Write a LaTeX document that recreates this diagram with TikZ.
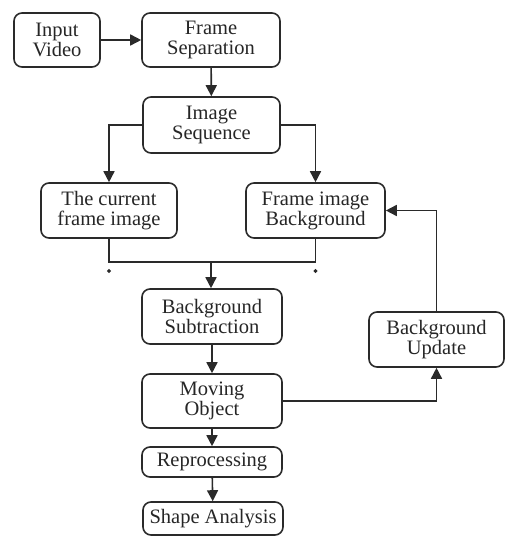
\documentclass[tikz,border=0pt]{standalone}
\usepackage{fontspec}
\setmainfont{Liberation Serif}
\usetikzlibrary{arrows.meta}
\definecolor{ln}{HTML}{2a2a2a}
\begin{document}
\begin{tikzpicture}[x=1pt,y=-1pt,
  box/.style={draw=ln,line width=1.6pt,rounded corners=8pt,inner sep=0pt,align=center,
    font=\fontsize{20.5}{20}\selectfont,text=black!85},
  arr/.style={draw=ln,line width=1.6pt,-{Triangle[length=11pt,width=11pt]}},
  ln/.style={draw=ln,line width=1.6pt}]
\useasboundingbox (0,0) rectangle (504,538);
\node[box,minimum width=86pt,minimum height=54pt] (inp) at (57,40) {Input\\Video};
\node[box,minimum width=138pt,minimum height=54pt] (fsep) at (211,40) {Frame\\Separation};
\node[box,minimum width=137pt,minimum height=56pt] (iseq) at (211.5,125) {Image\\Sequence};
\node[box,minimum width=136pt,minimum height=55pt] (cur) at (109,210.5) {The current\\frame image};
\node[box,minimum width=139pt,minimum height=55pt] (fbg) at (315.5,210.5) {Frame image\\Background};
\node[box,minimum width=140pt,minimum height=55pt] (bsub) at (212,316.5) {Background\\Subtraction};
\node[box,minimum width=140pt,minimum height=54pt] (mov) at (212,401) {Moving\\Object};
\node[box,minimum width=140pt,minimum height=30pt] (rep) at (212,462) {Reprocessing};
\node[box,minimum width=140pt,minimum height=33pt] (shp) at (213,518.5) {Shape Analysis};
\node[box,minimum width=135pt,minimum height=55pt] (bup) at (436.5,339.5) {Background\\Update};
\draw[arr] (inp) -- (fsep);
\draw[arr] (fsep) -- (iseq);
\draw[arr] (iseq.west) -| (cur.north);
\draw[arr] (iseq.east) -| (fbg.north);
\coordinate (j) at (211,262);
\draw[ln] (cur.south) |- (j) -| (fbg.south);
\draw[arr] (j) -- (j |- bsub.north);
\fill[ln] (109,271) circle (0.9pt) (315.5,271) circle (0.9pt);
\draw[arr] (bsub) -- (mov);
\draw[arr] (mov) -- (rep);
\draw[arr] (rep) -- (shp);
\draw[arr] (mov.east) -| (bup.south);
\draw[arr] (bup.north) |- (fbg.east);
\end{tikzpicture}
\end{document}
